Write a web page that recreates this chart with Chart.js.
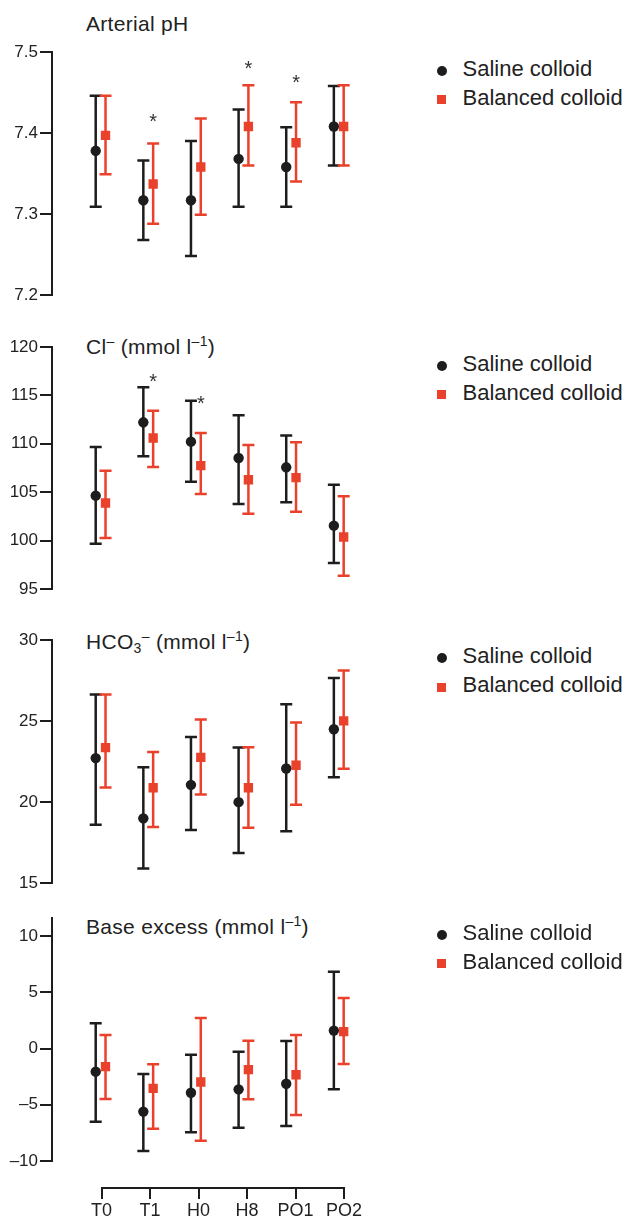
<!DOCTYPE html>
<html><head><meta charset="utf-8">
<script src="https://cdn.jsdelivr.net/npm/chart.js@4"></script>
<style>
html,body{margin:0;padding:0;background:#fff;width:625px;height:1219px;overflow:hidden;}
body{position:relative;font-family:"Liberation Sans",Arial,sans-serif;color:#222;}
canvas{position:absolute;left:0;}
.title{position:absolute;left:86px;font-size:21px;line-height:20px;letter-spacing:0.3px;white-space:nowrap;color:#222;}
.title sup{font-size:14px;vertical-align:baseline;position:relative;top:-8px;}
.title sub{font-size:14px;vertical-align:baseline;position:relative;top:4px;}
.lt{position:absolute;left:462.5px;height:24px;line-height:24px;font-size:22px;white-space:nowrap;color:#222;}
.dot{position:absolute;left:436.7px;width:10px;height:10px;border-radius:50%;background:#1d1d1d;}
.sq{position:absolute;left:437.2px;width:9px;height:9px;background:#e9412b;}
</style></head><body>
<div class="title" style="top:13.7px">Arterial pH</div>
<div class="title" style="top:336.6px">Cl<sup>–</sup> (mmol l<sup>–1</sup>)</div>
<div class="title" style="top:632px">HCO<sub>3</sub><sup>–</sup> (mmol l<sup>–1</sup>)</div>
<div class="title" style="top:917.4px">Base excess (mmol l<sup>–1</sup>)</div>
<script>
// ---- data ----
const categories = ['T0','T1','H0','H8','PO1','PO2'];
const seriesNames = ['Saline colloid','Balanced colloid'];

const phSaline       = [7.378,7.317,7.317,7.368,7.358,7.408];
const phSalineLow    = [7.309,7.268,7.248,7.309,7.309,7.360];
const phSalineHigh   = [7.446,7.366,7.390,7.429,7.407,7.458];
const phBalanced     = [7.397,7.337,7.358,7.408,7.388,7.408];
const phBalancedLow  = [7.349,7.288,7.299,7.360,7.340,7.360];
const phBalancedHigh = [7.446,7.387,7.418,7.459,7.438,7.459];
const phTicks      = [7.2,7.3,7.4,7.5];
const phTickLabels = ['7.2','7.3','7.4','7.5'];
const phStarCats   = [1,3,4];
const phStarValues = [7.420,7.486,7.468];

const clSaline       = [104.64,112.22,110.22,108.53,107.57,101.54];
const clSalineLow    = [99.68,108.71,106.09,103.78,103.95,97.69];
const clSalineHigh   = [109.67,115.83,114.46,112.94,110.87,105.78];
const clBalanced     = [103.88,110.60,107.74,106.29,106.50,100.37];
const clBalancedLow  = [100.27,107.60,104.81,102.78,102.99,96.38];
const clBalancedHigh = [107.22,113.42,111.12,109.88,110.15,104.57];
const clTicks      = [95,100,105,110,115,120];
const clTickLabels = ['95','100','105','110','115','120'];
const clStarCats   = [1,2];
const clStarValues = [116.9,114.7];

const hco3Saline       = [22.71,18.99,21.06,19.99,22.07,24.49];
const hco3SalineLow    = [18.60,15.90,18.27,16.85,18.19,21.53];
const hco3SalineHigh   = [26.63,22.15,24.02,23.36,26.03,27.66];
const hco3Balanced     = [23.36,20.88,22.75,20.88,22.27,25.01];
const hco3BalancedLow  = [20.90,18.45,20.47,18.41,19.83,22.05];
const hco3BalancedHigh = [26.63,23.08,25.09,23.38,24.90,28.11];
const hco3Ticks      = [15,20,25,30];
const hco3TickLabels = ['15','20','25','30'];

const beSaline       = [-2.06,-5.61,-3.93,-3.63,-3.13,1.59];
const beSalineLow    = [-6.50,-9.11,-7.45,-7.04,-6.89,-3.63];
const beSalineHigh   = [2.24,-2.27,-0.55,-0.28,0.67,6.83];
const beBalanced     = [-1.61,-3.54,-2.98,-1.88,-2.33,1.50];
const beBalancedLow  = [-4.49,-7.13,-8.19,-4.52,-5.91,-1.38];
const beBalancedHigh = [1.20,-1.41,2.71,0.70,1.20,4.49];
const beTicks      = [-10,-5,0,5,10];
const beTickLabels = ['–10','–5','0','5','10'];

// ---- style ----
const BLACK = '#1d1d1d', RED = '#e9412b', TXT = '#222';
const FONT = '"Liberation Sans", Arial, sans-serif';
const OFF = 0.103;           // half gap between the two series, category units
const X0 = 101.5, STEP = 48.5, CW = 420, LEFT = 52;
const XMIN = (LEFT - X0) / STEP, XMAX = (CW - X0) / STEP;

function errorBarPlugin(bars){
  return {
    id:'errorBars',
    beforeDatasetsDraw(chart){
      const {ctx, scales:{x,y}} = chart;
      chart.data.datasets.forEach((ds,di)=>{
        const [lo,hi] = bars[di];
        ctx.save(); ctx.strokeStyle = ds.backgroundColor; ctx.lineWidth = 2.5; ctx.lineCap='butt';
        ds.data.forEach((p,i)=>{
          const px = x.getPixelForValue(p.x), pl = y.getPixelForValue(lo[i]), ph = y.getPixelForValue(hi[i]);
          ctx.beginPath();
          ctx.moveTo(px,pl); ctx.lineTo(px,ph);
          ctx.moveTo(px-6,pl); ctx.lineTo(px+6,pl);
          ctx.moveTo(px-6,ph); ctx.lineTo(px+6,ph);
          ctx.stroke();
        });
        ctx.restore();
      });
    }
  };
}
function starPlugin(cats, vals){
  return {
    id:'stars',
    afterDatasetsDraw(chart){
      const {ctx, scales:{x,y}} = chart;
      ctx.save(); ctx.fillStyle='#333'; ctx.font='20px '+FONT; ctx.textAlign='center'; ctx.textBaseline='alphabetic';
      cats.forEach((c,i)=>{ ctx.fillText('*', x.getPixelForValue(c+OFF), y.getPixelForValue(vals[i]) + 11.2); });
      ctx.restore();
    }
  };
}
function addLegend(yDot, ySq){
  const d=document.createElement('div'); d.className='dot'; d.style.top=(yDot-5)+'px'; document.body.appendChild(d);
  const s=document.createElement('div'); s.className='sq'; s.style.top=(ySq-4.5)+'px'; document.body.appendChild(s);
  const t1=document.createElement('div'); t1.className='lt'; t1.style.top=(yDot-14)+'px'; t1.textContent=seriesNames[0]; document.body.appendChild(t1);
  const t2=document.createElement('div'); t2.className='lt'; t2.style.top=(ySq-14)+'px'; t2.textContent=seriesNames[1]; document.body.appendChild(t2);
}
function makeCanvas(top,h){
  const c=document.createElement('canvas'); c.width=CW; c.height=h;
  c.style.top=top+'px'; c.style.width=CW+'px'; c.style.height=h+'px';
  document.body.appendChild(c); return c;
}
function makePanel(p){
  const cv = makeCanvas(p.top, p.h);
  new Chart(cv,{
    type:'scatter',
    data:{datasets:[
      {label:seriesNames[0], data:p.sal.map((v,i)=>({x:i-OFF,y:v})), pointStyle:'circle', pointRadius:5.2, backgroundColor:BLACK, borderColor:BLACK, borderWidth:0},
      {label:seriesNames[1], data:p.bal.map((v,i)=>({x:i+OFF,y:v})), pointStyle:'rect', pointRadius:6.6, backgroundColor:RED, borderColor:RED, borderWidth:0}
    ]},
    options:{
      responsive:false, animation:false, events:[],
      layout:{padding:{top:20,bottom:20,left:0,right:0}},
      plugins:{legend:{display:false}, tooltip:{enabled:false}},
      scales:{
        x:{type:'linear', display:false, min:XMIN, max:XMAX},
        y:{type:'linear', min:p.min, max:p.max,
           afterFit(s){ s.width = LEFT; },
           afterBuildTicks(s){ s.ticks = p.ticks.map(v=>({value:v})); },
           ticks:{callback:(v,i)=>p.labels[i], font:{family:FONT,size:17}, color:TXT, padding:2},
           grid:{drawOnChartArea:false, drawTicks:true, tickLength:12, color:BLACK, lineWidth:2},
           border:{display:true, color:BLACK, width:2}}
      }
    },
    plugins:[errorBarPlugin([[p.salLo,p.salHi],[p.balLo,p.balHi]]), starPlugin(p.starCats||[], p.starVals||[])]
  });
  addLegend(p.legDot, p.legSq);
}

makePanel({top:32,h:283,min:7.2,max:7.5,ticks:phTicks,labels:phTickLabels,
  sal:phSaline,salLo:phSalineLow,salHi:phSalineHigh,bal:phBalanced,balLo:phBalancedLow,balHi:phBalancedHigh,
  starCats:phStarCats,starVals:phStarValues,legDot:70.5,legSq:99.5});
makePanel({top:327,h:282,min:95,max:120,ticks:clTicks,labels:clTickLabels,
  sal:clSaline,salLo:clSalineLow,salHi:clSalineHigh,bal:clBalanced,balLo:clBalancedLow,balHi:clBalancedHigh,
  starCats:clStarCats,starVals:clStarValues,legDot:366,legSq:394.5});
makePanel({top:620,h:283,min:15,max:30,ticks:hco3Ticks,labels:hco3TickLabels,
  sal:hco3Saline,salLo:hco3SalineLow,salHi:hco3SalineHigh,bal:hco3Balanced,balLo:hco3BalancedLow,balHi:hco3BalancedHigh,
  legDot:658,legSq:687});
makePanel({top:898,h:283,min:-10,max:11.6,ticks:beTicks,labels:beTickLabels,
  sal:beSaline,salLo:beSalineLow,salHi:beSalineHigh,bal:beBalanced,balLo:beBalancedLow,balHi:beBalancedHigh,
  legDot:935,legSq:963.5});

// shared category axis at the bottom
const xc = makeCanvas(1160, 70);
new Chart(xc,{
  type:'scatter',
  data:{datasets:[{data:[]}]},
  options:{
    responsive:false, animation:false, events:[],
    layout:{padding:{left:X0, right:CW-(X0+5*STEP), top:5, bottom:0}},
    plugins:{legend:{display:false}, tooltip:{enabled:false}},
    scales:{
      x:{type:'linear', min:0, max:categories.length-1,
         afterFit(s){ s.height = 42; },
         afterBuildTicks(s){ s.ticks = categories.map((c,i)=>({value:i})); },
         ticks:{callback:(v,i)=>categories[i], font:{family:FONT,size:18}, color:TXT, padding:1, maxRotation:0, autoSkip:false},
         grid:{drawOnChartArea:false, drawTicks:true, tickLength:11, color:BLACK, lineWidth:2},
         border:{display:true, color:BLACK, width:2}},
      y:{display:false, min:0, max:1}
    }
  }
});
</script>
</body></html>
